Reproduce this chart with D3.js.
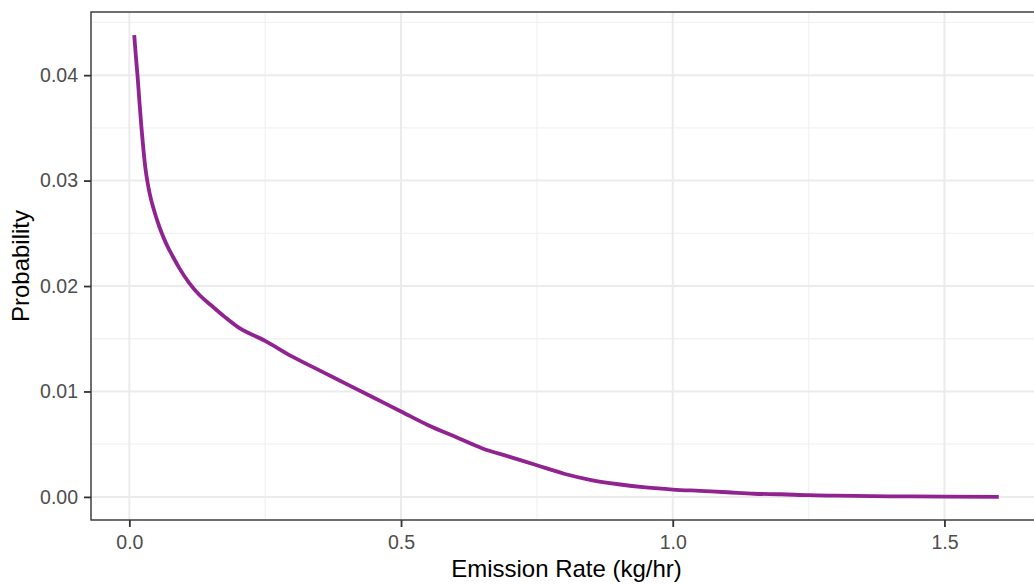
<!DOCTYPE html>
<html>
<head>
<meta charset="utf-8">
<script src="https://cdn.jsdelivr.net/npm/d3@7"></script>
<style>
  body { margin: 0; background: #fff; }
  text { font-family: "Liberation Sans", Arial, sans-serif; }
</style>
</head>
<body>
<div id="chart"></div>
<script>
// emission rate (kg/hr) and probability
const rates = [0.009, 0.012, 0.015, 0.018, 0.022, 0.026, 0.030, 0.035, 0.040, 0.046,
  0.052, 0.059, 0.068, 0.080, 0.092, 0.110, 0.130, 0.150, 0.175, 0.200,
  0.250, 0.300, 0.350, 0.400, 0.450, 0.500, 0.550, 0.600, 0.650, 0.700,
  0.750, 0.800, 0.850, 0.900, 0.950, 1.000, 1.050, 1.100, 1.150, 1.200,
  1.250, 1.300, 1.400, 1.500, 1.600];
const probs = [0.0438, 0.0418, 0.0400, 0.0379, 0.0352, 0.0329, 0.0310, 0.0294, 0.0282, 0.0271,
  0.0261, 0.0251, 0.0240, 0.0228, 0.0217, 0.0203, 0.0191, 0.0182, 0.0171, 0.0161,
  0.0148, 0.0133, 0.0120, 0.0107, 0.0094, 0.0081, 0.0068, 0.0057, 0.0046, 0.0038,
  0.0030, 0.0022, 0.0016, 0.0012, 0.0009, 0.0007, 0.00057, 0.00044, 0.0003, 0.00025,
  0.00016, 0.00012, 0.00006, 0.00003, 0.0000];

const xTicks = [0, 0.5, 1.0, 1.5];
const xMinor = [0.25, 0.75, 1.25];
const yTicks = [0, 0.01, 0.02, 0.03, 0.04];
const yMinor = [0.005, 0.015, 0.025, 0.035, 0.045];

const xLabel = 'Emission Rate (kg/hr)';
const yLabel = 'Probability';

class Chart {

  constructor(opts) {
    this.data = opts.data;
    this.element = opts.element;
    this.draw();
  }

  draw() {
    this.width = 1034;
    this.height = 584;
    // panel edges (right edge runs past the window, like the reference)
    this.panel = { left: 91, right: 1042, top: 12, bottom: 520 };

    const svg = d3.select(this.element).append('svg')
      .attr('width', this.width)
      .attr('height', this.height);
    this.svg = svg;

    this.createScales();
    this.addGrid();
    this.addLine();
    this.addAxes();
  }

  createScales() {
    const p = this.panel;
    // ggplot style 5% padding around the data range
    const xExt = d3.extent(this.data, d => d.x);
    const yExt = d3.extent(this.data, d => d.y);
    const xPad = (xExt[1] - xExt[0]) * 0.05;
    const yPad = (yExt[1] - yExt[0]) * 0.05;

    this.xScale = d3.scaleLinear()
      .domain([xExt[0] - xPad, xExt[1] + xPad])
      .range([p.left, p.right]);

    this.yScale = d3.scaleLinear()
      .domain([yExt[0] - yPad, yExt[1] + yPad])
      .range([p.bottom, p.top]);
  }

  addGrid() {
    const p = this.panel;
    const g = this.svg.append('g').attr('class', 'grid');

    g.selectAll('.xminor').data(xMinor).enter().append('line')
      .attr('x1', d => this.xScale(d)).attr('x2', d => this.xScale(d))
      .attr('y1', p.top).attr('y2', p.bottom)
      .attr('stroke', '#f2f2f2').attr('stroke-width', 1.3);

    g.selectAll('.yminor').data(yMinor).enter().append('line')
      .attr('y1', d => this.yScale(d)).attr('y2', d => this.yScale(d))
      .attr('x1', p.left).attr('x2', p.right)
      .attr('stroke', '#f2f2f2').attr('stroke-width', 1.3);

    g.selectAll('.xmajor').data(xTicks).enter().append('line')
      .attr('x1', d => this.xScale(d)).attr('x2', d => this.xScale(d))
      .attr('y1', p.top).attr('y2', p.bottom)
      .attr('stroke', '#ebebeb').attr('stroke-width', 2);

    g.selectAll('.ymajor').data(yTicks).enter().append('line')
      .attr('y1', d => this.yScale(d)).attr('y2', d => this.yScale(d))
      .attr('x1', p.left).attr('x2', p.right)
      .attr('stroke', '#ebebeb').attr('stroke-width', 2);
  }

  addLine() {
    const line = d3.line()
      .curve(d3.curveMonotoneX)
      .x(d => this.xScale(d.x))
      .y(d => this.yScale(d.y));

    this.svg.append('path')
      .datum(this.data)
      .attr('fill', 'none')
      .attr('stroke', '#912390')
      .attr('stroke-width', 3.8)
      .attr('stroke-linejoin', 'round')
      .attr('d', line);
  }

  addAxes() {
    const p = this.panel;

    // panel border
    this.svg.append('rect')
      .attr('x', p.left).attr('y', p.top)
      .attr('width', p.right - p.left).attr('height', p.bottom - p.top)
      .attr('fill', 'none')
      .attr('stroke', '#333333')
      .attr('stroke-width', 1.4);

    const xAxis = d3.axisBottom(this.xScale)
      .tickValues(xTicks)
      .tickFormat(d3.format('.1f'))
      .tickSize(7)
      .tickPadding(8);

    const yAxis = d3.axisLeft(this.yScale)
      .tickValues(yTicks)
      .tickFormat(d3.format('.2f'))
      .tickSize(7)
      .tickPadding(6);

    const gx = this.svg.append('g')
      .attr('class', 'x axis')
      .attr('transform', `translate(0, ${p.bottom})`)
      .call(xAxis);

    const gy = this.svg.append('g')
      .attr('class', 'y axis')
      .attr('transform', `translate(${p.left}, 0)`)
      .call(yAxis);

    [gx, gy].forEach(g => {
      g.select('.domain').remove();
      g.selectAll('.tick line').attr('stroke', '#333333').attr('stroke-width', 1.8);
      g.selectAll('.tick text')
        .attr('fill', '#4d4d4d')
        .style('font-size', '19.5px')
        .style('font-family', '"Liberation Sans", Arial, sans-serif');
    });

    this.svg.append('text')
      .attr('x', (p.left + p.right) / 2)
      .attr('y', 577)
      .attr('text-anchor', 'middle')
      .style('font-size', '24px')
      .attr('fill', '#000')
      .text(xLabel);

    this.svg.append('text')
      .attr('transform', `translate(29, ${(p.top + p.bottom) / 2}) rotate(-90)`)
      .attr('text-anchor', 'middle')
      .style('font-size', '24px')
      .attr('fill', '#000')
      .text(yLabel);
  }
}

const data = rates.map((r, i) => ({ x: r, y: probs[i] }));

new Chart({
  data: data,
  element: document.querySelector('#chart')
});
</script>
</body>
</html>
